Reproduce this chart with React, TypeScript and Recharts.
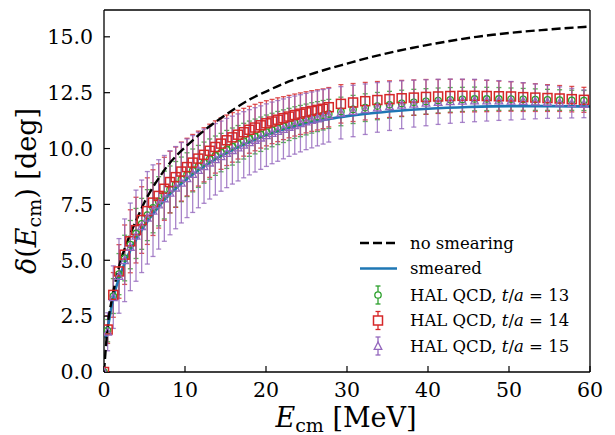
import React from 'react'
import { ComposedChart, Line, Scatter, ErrorBar, XAxis, YAxis, Legend } from 'recharts'

// E_cm grid of the lattice points: 0.7 MeV steps up to ~28, then 1.5 MeV steps
const energies = [0,
  0.45, 1.15, 1.85, 2.55, 3.25, 3.95, 4.65, 5.35, 6.05, 6.75, 7.45, 8.15, 8.85, 9.55, 10.25, 10.95, 11.65, 12.35, 13.05, 13.75,
  14.45, 15.15, 15.85, 16.55, 17.25, 17.95, 18.65, 19.35, 20.05, 20.75, 21.45, 22.15, 22.85, 23.55, 24.25, 24.95, 25.65, 26.35, 27.05, 27.75,
  29.25, 30.75, 32.25, 33.75, 35.25, 36.75, 38.25, 39.75, 41.25, 42.75, 44.25, 45.75, 47.25, 48.75, 50.25, 51.75, 53.25, 54.75, 56.25, 57.75, 59.25]

const t13Val = [0,
  1.85, 3.4, 4.38, 5.1, 5.7, 6.2, 6.63, 7.02, 7.35, 7.64, 7.92, 8.17, 8.4, 8.62, 8.83, 9.02, 9.2, 9.37, 9.53, 9.68,
  9.82, 9.96, 10.09, 10.21, 10.33, 10.44, 10.54, 10.64, 10.74, 10.83, 10.92, 11.0, 11.08, 11.16, 11.23, 11.3, 11.37, 11.43, 11.49, 11.55,
  11.66, 11.75, 11.83, 11.9, 11.96, 12.02, 12.07, 12.11, 12.15, 12.18, 12.2, 12.22, 12.22, 12.22, 12.21, 12.2, 12.19, 12.18, 12.17, 12.16, 12.15]
const t13Err = [0,
  0.5, 0.78, 0.92, 1.02, 1.08, 1.12, 1.14, 1.14, 1.12, 1.1, 1.07, 1.05, 1.02, 1.0, 0.98, 0.96, 0.94, 0.92, 0.9, 0.88,
  0.86, 0.85, 0.83, 0.82, 0.8, 0.79, 0.78, 0.77, 0.76, 0.75, 0.74, 0.73, 0.72, 0.71, 0.7, 0.69, 0.68, 0.67, 0.66, 0.65,
  0.64, 0.63, 0.62, 0.61, 0.6, 0.59, 0.58, 0.57, 0.56, 0.55, 0.54, 0.53, 0.52, 0.51, 0.5, 0.49, 0.48, 0.47, 0.46, 0.45, 0.45]

const t14Val = [0,
  1.9, 3.45, 4.5, 5.25, 5.85, 6.35, 6.8, 7.2, 7.58, 7.88, 8.2, 8.5, 8.72, 8.97, 9.17, 9.37, 9.55, 9.72, 9.9, 10.07,
  10.22, 10.37, 10.5, 10.62, 10.73, 10.84, 10.94, 11.04, 11.13, 11.21, 11.29, 11.36, 11.43, 11.5, 11.56, 11.62, 11.68, 11.73, 11.78, 11.85,
  12.0, 12.06, 12.12, 12.17, 12.21, 12.25, 12.28, 12.31, 12.33, 12.35, 12.36, 12.36, 12.35, 12.34, 12.33, 12.3, 12.28, 12.26, 12.24, 12.21, 12.18]
const t14Err = [0,
  0.62, 1.0, 1.2, 1.33, 1.41, 1.47, 1.49, 1.49, 1.47, 1.44, 1.41, 1.38, 1.35, 1.32, 1.29, 1.26, 1.23, 1.21, 1.19, 1.17,
  1.15, 1.13, 1.11, 1.09, 1.07, 1.05, 1.04, 1.02, 1.01, 0.99, 0.98, 0.96, 0.95, 0.94, 0.93, 0.92, 0.91, 0.9, 0.89, 0.88,
  0.86, 0.85, 0.84, 0.83, 0.82, 0.8, 0.79, 0.78, 0.76, 0.75, 0.73, 0.72, 0.7, 0.68, 0.66, 0.64, 0.62, 0.6, 0.58, 0.57, 0.56]

const t15Val = [0,
  1.8, 3.35, 4.3, 5.0, 5.6, 6.1, 6.52, 6.9, 7.22, 7.5, 7.77, 8.02, 8.25, 8.47, 8.67, 8.86, 9.04, 9.21, 9.37, 9.52,
  9.66, 9.8, 9.93, 10.05, 10.17, 10.28, 10.39, 10.49, 10.6, 10.7, 10.79, 10.88, 10.97, 11.05, 11.13, 11.21, 11.28, 11.35, 11.42, 11.49,
  11.6, 11.68, 11.76, 11.84, 11.9, 11.96, 12.01, 12.05, 12.09, 12.12, 12.14, 12.15, 12.15, 12.15, 12.14, 12.13, 12.11, 12.09, 12.06, 12.03, 12.0]
const t15Err = [0,
  0.85, 1.4, 1.67, 1.85, 1.96, 2.04, 2.07, 2.07, 2.05, 2.0, 1.92, 1.88, 1.84, 1.8, 1.76, 1.72, 1.69, 1.66, 1.63, 1.6,
  1.57, 1.55, 1.52, 1.5, 1.48, 1.46, 1.44, 1.42, 1.4, 1.38, 1.36, 1.34, 1.32, 1.3, 1.28, 1.26, 1.25, 1.23, 1.22, 1.2,
  1.17, 1.15, 1.13, 1.11, 1.09, 1.07, 1.05, 1.03, 1.01, 0.99, 0.97, 0.95, 0.92, 0.89, 0.86, 0.82, 0.78, 0.74, 0.7, 0.66, 0.62]

const noSmearE = [0, 0.5, 1, 2, 3, 4, 5, 6, 7, 8, 9, 10, 12, 14, 16, 18, 20, 22, 24, 26, 28, 30, 32, 34, 36, 38, 40, 42, 44, 46, 48, 50, 52, 54, 56, 58, 60]
const noSmear = [0, 2.2, 3.3, 4.9, 5.95, 6.8, 7.6, 8.25, 8.8, 9.3, 9.7, 10.05, 10.7, 11.25, 11.75, 12.2, 12.55, 12.88, 13.15, 13.38, 13.6, 13.8, 14.0, 14.18, 14.35, 14.5, 14.64, 14.77, 14.89, 15.0, 15.09, 15.17, 15.24, 15.3, 15.36, 15.41, 15.46]

const smearE = [0.2, 0.5, 1, 1.5, 2, 3, 4, 5, 6, 7, 8, 9, 10, 12, 14, 16, 18, 20, 22, 24, 26, 28, 30, 33, 36, 40, 45, 50, 55, 60]
const smeared = [1.5, 2.05, 3.05, 3.8, 4.35, 5.25, 5.95, 6.55, 7.05, 7.5, 7.9, 8.25, 8.57, 9.12, 9.58, 9.97, 10.3, 10.6, 10.84, 11.04, 11.2, 11.34, 11.45, 11.58, 11.68, 11.78, 11.86, 11.9, 11.9, 11.88]

const xTicks = [0, 10, 20, 30, 40, 50, 60]
const yTicks = [0, 2.5, 5, 7.5, 10, 12.5, 15]

const FONT = '"DejaVu Serif", serif'
const C13 = '#2ca02c', C14 = '#d62728', C15 = '#9467bd', BLUE = '#1f77b4'

const pts = (vals: number[], errs: number[]) => energies.map((E, i) => ({ E, v: vals[i], err: errs[i] }))
const t13 = pts(t13Val, t13Err)
const t14 = pts(t14Val, t14Err)
const t15 = pts(t15Val, t15Err)
const noSmearData = noSmearE.map((E, i) => ({ E, v: noSmear[i] }))
const smearData = smearE.map((E, i) => ({ E, v: smeared[i] }))

const CircleMark = ({ cx, cy }: any) => <circle cx={cx} cy={cy} r={3.2} fill="none" stroke={C13} strokeWidth={1.3}/>
const SquareMark = ({ cx, cy }: any) => <rect x={cx-4.5} y={cy-4.5} width={9} height={9} fill="none" stroke={C14} strokeWidth={1.5}/>
const TriMark = ({ cx, cy }: any) => (
  <path d={`M${cx},${cy-4}L${cx-3.8},${cy+3.4}L${cx+3.8},${cy+3.4}Z`} fill="none" stroke={C15} strokeWidth={1.3}/>
)

const tickStyle = { fill: '#000', fontSize: 20.5, fontFamily: FONT }
const axisLn = { stroke: '#000', strokeWidth: 1.3 }
const tickLn = { stroke: '#000', strokeWidth: 1.2 }

const XLabel = () => (
  <text x={346} y={427} textAnchor="middle" fontFamily={FONT} fontSize={27} fill="#000">
    <tspan fontStyle="italic">E</tspan><tspan fontSize={19} dy={5}>cm</tspan><tspan dy={-5}> [MeV]</tspan>
  </text>
)

const YLabel = () => (
  <text transform="rotate(-90)" x={-191} y={36} textAnchor="middle" fontFamily={FONT} fontSize={27} fill="#000">
    <tspan fontStyle="italic">δ</tspan>(<tspan fontStyle="italic">E</tspan><tspan fontSize={19} dy={5}>cm</tspan><tspan dy={-5}>) [deg]</tspan>
  </text>
)

const ErrHandle = ({ y, color, children }: any) => (
  <g>
    <line x1={18} x2={18} y1={y-9} y2={y+9} stroke={color} strokeWidth={1.3}/>
    <line x1={15.5} x2={20.5} y1={y-9} y2={y-9} stroke={color} strokeWidth={1.3}/>
    <line x1={15.5} x2={20.5} y1={y+9} y2={y+9} stroke={color} strokeWidth={1.3}/>
    {children}
  </g>
)

const LegendBox = () => (
  <svg width={250} height={135} style={{ fontFamily: FONT, fontSize: 16.5, display: 'block' }}>
    <line x1={0} x2={37} y1={15} y2={15} stroke="#000" strokeWidth={2.4} strokeDasharray="9 4"/>
    <text x={50} y={20.5}>no smearing</text>
    <line x1={0} x2={37} y1={40.5} y2={40.5} stroke={BLUE} strokeWidth={2.6}/>
    <text x={50} y={46}>smeared</text>
    <ErrHandle y={67} color={C13}><circle cx={18} cy={67} r={3.2} fill="#fff" stroke={C13} strokeWidth={1.3}/></ErrHandle>
    <text x={50} y={72.5}>HAL QCD, <tspan fontStyle="italic">t</tspan>/<tspan fontStyle="italic">a</tspan> = 13</text>
    <ErrHandle y={92.5} color={C14}><rect x={13.5} y={88} width={9} height={9} fill="#fff" stroke={C14} strokeWidth={1.5}/></ErrHandle>
    <text x={50} y={98}>HAL QCD, <tspan fontStyle="italic">t</tspan>/<tspan fontStyle="italic">a</tspan> = 14</text>
    <ErrHandle y={118} color={C15}><path d="M18,114L14.2,121.4L21.8,121.4Z" fill="#fff" stroke={C15} strokeWidth={1.3}/></ErrHandle>
    <text x={50} y={123.5}>HAL QCD, <tspan fontStyle="italic">t</tspan>/<tspan fontStyle="italic">a</tspan> = 15</text>
  </svg>
)

export default function App() {
  return (
    <div style={{ position: 'absolute', left: 0, top: 0, width: 615, height: 435, background: '#fff' }}>
      <ComposedChart width={615} height={435} margin={{ top: 9, right: 24, left: 0, bottom: 0 }}>
        <XAxis dataKey="E" type="number" domain={[0, 60]} ticks={xTicks} allowDataOverflow
          height={63} tickSize={-6} tickMargin={16} tick={tickStyle}
          axisLine={axisLn} tickLine={tickLn} label={<XLabel/>}/>
        <YAxis type="number" domain={[0, 16.2]} ticks={yTicks} allowDataOverflow
          width={104} tickSize={-6} tickMargin={17} tick={tickStyle} tickFormatter={(v: number) => v.toFixed(1)}
          axisLine={axisLn} tickLine={tickLn} label={<YLabel/>}/>
        {/* frame on top and right, ticks pointing in */}
        <XAxis xAxisId="top" dataKey="E" orientation="top" type="number" domain={[0, 60]} ticks={xTicks} allowDataOverflow
          height={1} tick={false} tickSize={-6} axisLine={axisLn} tickLine={tickLn}/>
        <YAxis yAxisId="right" orientation="right" type="number" domain={[0, 16.2]} ticks={yTicks} allowDataOverflow
          width={1} tick={false} tickSize={-6} axisLine={axisLn} tickLine={tickLn}/>

        <Scatter name="t13" data={t13} dataKey="v" shape={<CircleMark/>} isAnimationActive={false}>
          <ErrorBar dataKey="err" direction="y" width={2.5} stroke="rgba(44,160,44,0.8)" strokeWidth={1.3}/>
        </Scatter>
        <Scatter name="t14" data={t14} dataKey="v" shape={<SquareMark/>} isAnimationActive={false}>
          <ErrorBar dataKey="err" direction="y" width={2.5} stroke="rgba(214,39,40,0.8)" strokeWidth={1.3}/>
        </Scatter>
        <Scatter name="t15" data={t15} dataKey="v" shape={<TriMark/>} isAnimationActive={false}>
          <ErrorBar dataKey="err" direction="y" width={2.5} stroke="rgba(148,103,189,0.8)" strokeWidth={1.3}/>
        </Scatter>

        <Line data={smearData} dataKey="v" type="monotone" stroke={BLUE} strokeWidth={2.6} dot={false} activeDot={false} isAnimationActive={false}/>
        <Line data={noSmearData} dataKey="v" type="monotone" stroke="#000" strokeWidth={2.4} strokeDasharray="9 4" dot={false} activeDot={false} isAnimationActive={false}/>
        {/* invisible copy so the frame axes get a domain */}
        <Line xAxisId="top" yAxisId="right" data={noSmearData} dataKey="v" stroke="none" dot={false} activeDot={false} legendType="none" isAnimationActive={false}/>

        <Legend layout="vertical" align="center" verticalAlign="middle" content={<LegendBox/>}
          wrapperStyle={{ left: 360, top: 228, width: 250, height: 135 }}/>
      </ComposedChart>
    </div>
  )
}
